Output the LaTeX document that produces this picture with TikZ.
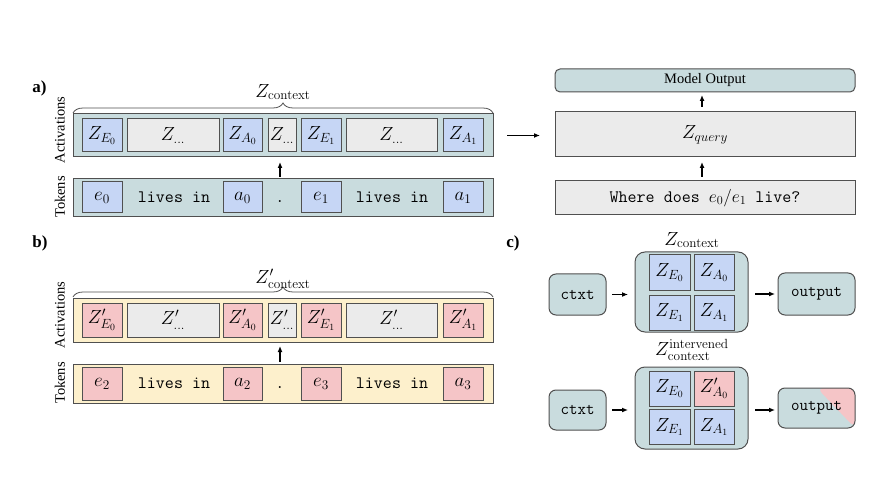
\RequirePackage{fix-cm}
\documentclass[tikz,border=0pt]{standalone}
\usepackage[no-math]{fontspec}
\newfontfamily\timesf{Liberation Serif}
\usetikzlibrary{decorations.pathreplacing,arrows.meta}
\definecolor{cteal}{HTML}{C9DCDE}
\definecolor{cblue}{HTML}{C6D6F5}
\definecolor{cgray}{HTML}{EBEBEB}
\definecolor{cpink}{HTML}{F5C5C7}
\definecolor{ccream}{HTML}{FDF0CC}
\definecolor{cline}{HTML}{505050}
\tikzset{
  every node/.style={font=\fontsize{19}{22}\selectfont, inner sep=0pt, outer sep=0pt},
  bd/.style={draw=cline, line width=1pt},
  cont/.style={bd, fill=cteal, minimum width=420pt},
  contb/.style={bd, fill=ccream, minimum width=420pt},
  bcell/.style={bd, fill=cblue},
  gcell/.style={bd, fill=cgray},
  pcell/.style={bd, fill=cpink},
  rbox/.style={bd, rounded corners=7pt, fill=cteal},
  arr/.style={-{Latex[length=6pt,width=5pt]}, line width=1.3pt},
  tt/.style={font=\ttfamily\fontsize{17.5}{20}\selectfont},
  tts/.style={font=\ttfamily\fontsize{16.5}{19}\selectfont},
  lab/.style={font=\timesf\fontsize{14.5}{17}\selectfont},
  plab/.style={font=\timesf\bfseries\fontsize{17}{20}\selectfont},
  brc/.style={decorate, decoration={brace, amplitude=10pt}, draw=cline, line width=0.8pt},
}
\begin{document}
\begin{tikzpicture}[x=1pt,y=-1pt]
\useasboundingbox (0,0) rectangle (891,478);

% ---------- panel a ----------
\node[plab] (pa) at (39.5,88) {a)};
\node[lab, rotate=90] (actLA) at (60,130) {Activations};
\node[lab, rotate=90] (tokLA) at (60,197) {Tokens};

\node[cont, minimum height=43pt] (actA) at (283,135.5) {};
\node[bcell, minimum width=40pt, minimum height=33pt] (aze0) at (102,135.5) {$Z_{E_0}$};
\node[gcell, minimum width=92pt, minimum height=33pt] (azd1) at (173,135.5) {$Z_{\ldots}$};
\node[bcell, minimum width=39pt, minimum height=33pt] (aza0) at (242.5,135.5) {$Z_{A_0}$};
\node[gcell, minimum width=28pt, minimum height=33pt] (azd2) at (282,135.5) {$Z_{\ldots}$};
\node[bcell, minimum width=40pt, minimum height=33pt] (aze1) at (321,135.5) {$Z_{E_1}$};
\node[gcell, minimum width=91pt, minimum height=33pt] (azd3) at (391.5,135.5) {$Z_{\ldots}$};
\node[bcell, minimum width=40pt, minimum height=33pt] (aza1) at (463,135.5) {$Z_{A_1}$};

\node[cont, minimum height=38pt] (tokA) at (283,198) {};
\node[bcell, minimum width=40pt, minimum height=31pt] (te0) at (102,197.5) {$e_0$};
\node[tt] (tl1) at (174,197) {lives in};
\node[bcell, minimum width=39pt, minimum height=31pt] (ta0) at (242.5,197.5) {$a_0$};
\node[tt] (tdA) at (280,197) {\vphantom{lives in}.};
\node[bcell, minimum width=40pt, minimum height=31pt] (te1) at (321,197.5) {$e_1$};
\node[tt] (tl2) at (392,197) {lives in};
\node[bcell, minimum width=40pt, minimum height=31pt] (ta1) at (463,197.5) {$a_1$};

\draw[arr, shorten <=2pt, shorten >=5pt] (tdA |- tokA.north) -- (tdA |- actA.south);
\draw[brc] ([yshift=1pt]actA.north west) -- ([yshift=1pt]actA.north east);
\node (lzA) at (283,92) {$Z_{\mathrm{context}}$};

% right of panel a
\node[rbox, rounded corners=5pt, minimum width=300pt, minimum height=23pt, lab] (mo) at (705,80.5) {Model Output};
\node[gcell, minimum width=300pt, minimum height=45pt] (zq) at (705,134.5) {$Z_{query}$};
\node[gcell, minimum width=300pt, minimum height=34pt, tt] (qu) at (705,198) {Where does $e_0/e_1$ live?};
\draw[arr, shorten <=4pt, shorten >=5pt] ([xshift=-3pt]qu.north) -- ([xshift=-3pt]zq.south);
\draw[arr, shorten <=5pt, shorten >=3pt] ([xshift=-3pt]zq.north) -- ([xshift=-3pt]mo.south);
\draw[arr, shorten <=14pt, shorten >=15pt] (actA.east) -- (actA.east -| zq.west);

% ---------- panel b ----------
\node[plab] (pb) at (40,243) {b)};
\node[lab, rotate=90] (actLB) at (60,315) {Activations};
\node[lab, rotate=90] (tokLB) at (60,383) {Tokens};

\node[contb, minimum height=44pt] (actB) at (283,320) {};
\node[pcell, minimum width=40pt, minimum height=34pt] (bze0) at (102,320) {$Z'_{E_0}$};
\node[gcell, minimum width=92pt, minimum height=34pt] (bzd1) at (173,320) {$Z'_{\ldots}$};
\node[pcell, minimum width=39pt, minimum height=34pt] (bza0) at (242.5,320) {$Z'_{A_0}$};
\node[gcell, minimum width=28pt, minimum height=34pt] (bzd2) at (282,320) {$Z'_{\ldots}$};
\node[pcell, minimum width=40pt, minimum height=34pt] (bze1) at (321,320) {$Z'_{E_1}$};
\node[gcell, minimum width=91pt, minimum height=34pt] (bzd3) at (391.5,320) {$Z'_{\ldots}$};
\node[pcell, minimum width=40pt, minimum height=34pt] (bza1) at (463,320) {$Z'_{A_1}$};

\node[contb, minimum height=39pt] (tokB) at (283,383.5) {};
\node[pcell, minimum width=40pt, minimum height=33pt] (te2) at (102,383.5) {$e_2$};
\node[tt] (tl3) at (174,383) {lives in};
\node[pcell, minimum width=39pt, minimum height=33pt] (ta2) at (242.5,383.5) {$a_2$};
\node[tt] (tdB) at (280,383) {\vphantom{lives in}.};
\node[pcell, minimum width=40pt, minimum height=33pt] (te3) at (321,383.5) {$e_3$};
\node[tt] (tl4) at (392,383) {lives in};
\node[pcell, minimum width=40pt, minimum height=33pt] (ta3) at (463,383.5) {$a_3$};

\draw[arr, shorten <=2pt, shorten >=4pt] (tdB |- tokB.north) -- (tdB |- actB.south);
\draw[brc] ([yshift=1pt]actB.north west) -- ([yshift=1pt]actB.north east);
\node (lzB) at (283,279) {$Z'_{\mathrm{context}}$};

% ---------- panel c ----------
\node[plab] (pc) at (513,243) {c)};

\node (lzc1) at (692,240) {$Z_{\mathrm{context}}$};
\node[rbox, rounded corners=10pt, minimum width=113pt, minimum height=80pt] (big1) at (691.5,292) {};
\node[bcell, minimum width=41pt, minimum height=35pt] (c1e0) at (669.5,272.5) {$Z_{E_0}$};
\node[bcell, minimum width=40pt, minimum height=35pt] (c1a0) at (714,272.5) {$Z_{A_0}$};
\node[bcell, minimum width=41pt, minimum height=35pt] (c1e1) at (669.5,312.5) {$Z_{E_1}$};
\node[bcell, minimum width=40pt, minimum height=35pt] (c1a1) at (714,312.5) {$Z_{A_1}$};
\node[rbox, tts, minimum width=57pt, minimum height=41pt] (ctx1) at (577.5,294.5) {ctxt};
\node[rbox, tts, minimum width=77pt, minimum height=42pt] (out1) at (816.5,294) {output};
\draw[arr, shorten <=6pt, shorten >=7pt] (ctx1.east) -- (ctx1.east -| big1.west);
\draw[arr, shorten <=7pt, shorten >=3pt] (big1.east |- out1.west) -- (out1.west);

\node (lzc2) at (692,350) {$Z^{\mathrm{intervened}}_{\mathrm{context}}$};
\node[rbox, rounded corners=10pt, minimum width=113pt, minimum height=82pt] (big2) at (691.5,408) {};
\node[bcell, minimum width=41pt, minimum height=35pt] (c2e0) at (669.5,388.5) {$Z_{E_0}$};
\node[pcell, minimum width=40pt, minimum height=35pt] (c2a0) at (714,388.5) {$Z'_{A_0}$};
\node[bcell, minimum width=41pt, minimum height=35pt] (c2e1) at (669.5,427) {$Z_{E_1}$};
\node[bcell, minimum width=40pt, minimum height=35pt] (c2a1) at (714,427) {$Z_{A_1}$};
\node[rbox, tts, minimum width=57pt, minimum height=40pt] (ctx2) at (577.5,410) {ctxt};
\node[rbox, tts, minimum width=77pt, minimum height=40pt,
  path picture={\fill[cpink] ([xshift=-38pt]path picture bounding box.north east)
     -- (path picture bounding box.north east) -- (path picture bounding box.south east) -- cycle;}]
  (out2) at (816.5,408) {output};
\draw[arr, shorten <=6pt, shorten >=7pt] (ctx2.east) -- (ctx2.east -| big2.west);
\draw[arr, shorten <=7pt, shorten >=3pt] (big2.east |- ctx2.east) -- (ctx2.east -| out2.west);
\end{tikzpicture}
\end{document}
